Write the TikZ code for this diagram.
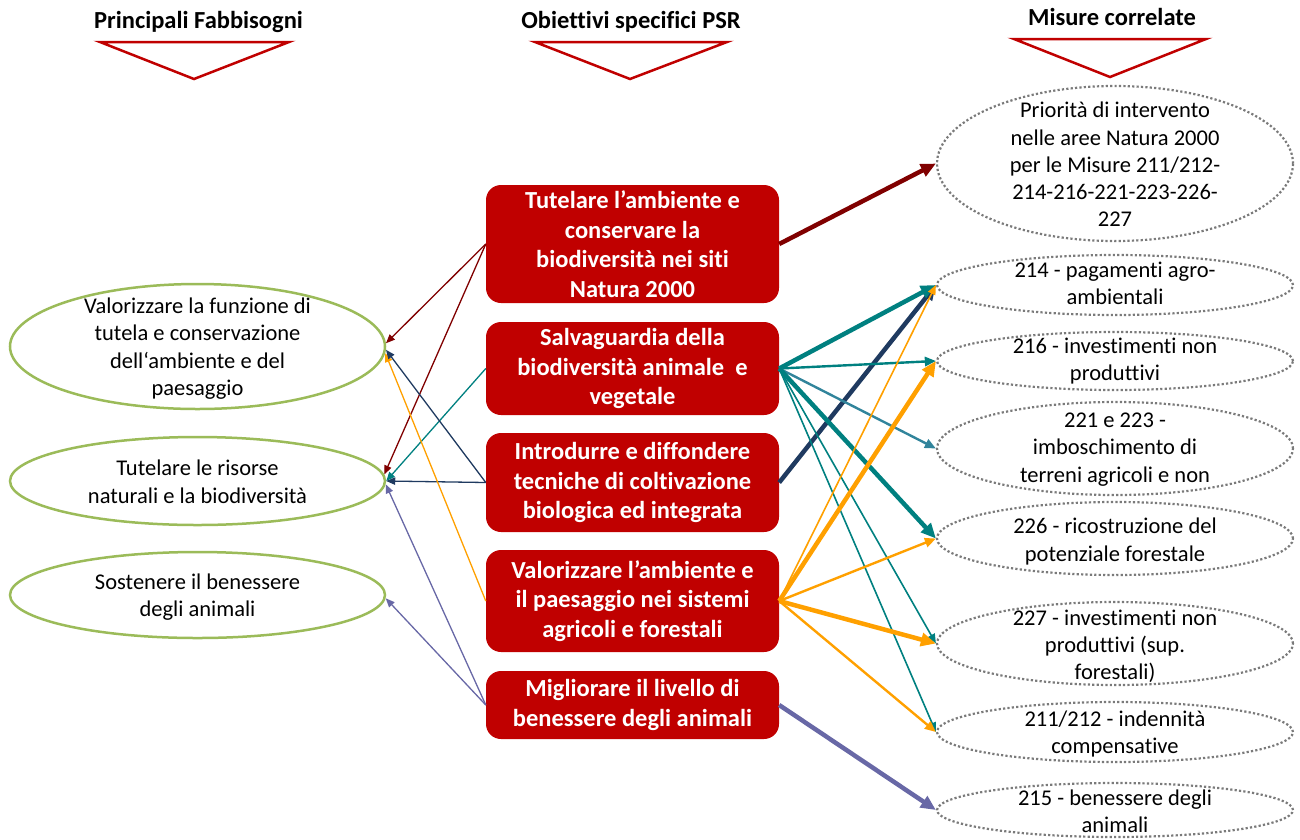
\documentclass[tikz,border=0pt]{standalone}
\usepackage{fontspec}
\setmainfont{Carlito}[RawFeature={-liga;-clig;-rlig;-ccmp;-calt}]
\usetikzlibrary{arrows.meta,shapes.geometric}

\definecolor{boxred}{HTML}{C00000}
\definecolor{cRed}{HTML}{800000}
\definecolor{cTeal}{HTML}{008080}
\definecolor{cSteel}{HTML}{31849B}
\definecolor{cNavy}{HTML}{1F3A60}
\definecolor{cOrange}{HTML}{FFA000}
\definecolor{cPurple}{HTML}{6868A6}
\definecolor{cGreen}{HTML}{9BBB59}
\definecolor{cDot}{HTML}{7A7A7A}

\begin{document}
\begin{tikzpicture}[x=1pt,y=-1pt,
  headtxt/.style={font=\bfseries\fontsize{24.5}{29}\selectfont, inner sep=0pt},
  headtri/.style={draw=boxred, line width=2.5pt},
  need/.style={ellipse, draw=cGreen, line width=2.5pt, minimum width=375pt, inner sep=0pt},
  needtxt/.style={align=center, font=\fontsize{22.5}{27.5}\selectfont, inner sep=0pt},
  measure/.style={ellipse, draw=cDot, line width=2.2pt, dash pattern=on 2.2pt off 2.2pt,
                  minimum width=356pt, inner sep=0pt},
  meastxt/.style={align=center, font=\fontsize{22.5}{27.3}\selectfont, inner sep=0pt},
  goal/.style={rectangle, rounded corners=15pt, fill=boxred, text=white, align=center,
               minimum width=293pt, inner sep=0pt,
               font=\bfseries\fontsize{24.5}{29.5}\selectfont},
  link/.style={-{Triangle[length=6.5pt 1.9, width=5pt 1.8]}, line width=1.3pt},
  thin/.style={link, line width=1.6pt},
  mid/.style={link, line width=2.4pt},
  thick/.style={link, line width=4.5pt}
]
\useasboundingbox (0,0) rectangle (1300,839);

% column headings with their red arrows
\node[headtxt, anchor=base] (h1) at (198.5,28) {Principali Fabbisogni};
\node[headtxt, anchor=base] (h2) at (631,28) {Obiettivi specifici PSR};
\node[headtxt, anchor=base] (h3) at (1112,25) {Misure correlate};
\draw[headtri] (100,42) -- (289,42) -- (194,79) -- cycle;
\draw[headtri] (535,42) -- (727,42) -- (630,79) -- cycle;
\draw[headtri] (1014,39) -- (1206,39) -- (1110,77) -- cycle;

% needs (left column)
\node[need, minimum height=125pt] (n1) at (197.5,346.5) {};
\node[need, minimum height=88pt] (n2) at (197.5,481) {};
\node[need, minimum height=86pt] (n3) at (197.5,595) {};
\node[needtxt] (tn1) at ([yshift=-2pt]n1.center) {Valorizzare la funzione di\\tutela e conservazione\\dell‘ambiente e del\\paesaggio};
\node[needtxt] (tn2) at ([yshift=-1pt]n2.center) {Tutelare le risorse\\naturali e la biodiversità};
\node[needtxt] (tn3) at ([yshift=-2pt]n3.center) {Sostenere il benessere\\degli animali};

% objectives (middle column)
\node[goal, minimum height=118pt] (g1) at (632.5,244) {Tutelare l’ambiente e\\conservare la\\biodiversità nei siti\\Natura 2000};
\node[goal, minimum height=93pt] (g2) at (632.5,368.5) {Salvaguardia della\\biodiversità animale\ \ e\\vegetale};
\node[goal, minimum height=99pt] (g3) at (632.5,482.5) {Introdurre e diffondere\\tecniche di coltivazione\\biologica ed integrata};
\node[goal, minimum height=102pt] (g4) at (632.5,601) {Valorizzare l’ambiente e\\il paesaggio nei sistemi\\agricoli e forestali};
\node[goal, minimum height=68pt] (g5) at (632.5,705) {Migliorare il livello di\\benessere degli animali};

% measures (right column)
\node[measure, minimum height=155pt] (mP) at (1115,163.5) {};
\node[measure, minimum height=60pt] (m214) at (1115,285) {};
\node[measure, minimum height=58pt] (m216) at (1115,361) {};
\node[measure, minimum height=93pt] (m221) at (1115,448.5) {};
\node[measure, minimum height=73pt] (m226) at (1115,538.5) {};
\node[measure, minimum height=83pt] (m227) at (1115,643.5) {};
\node[measure, minimum height=60pt] (m211) at (1115,732) {};
\node[measure, minimum height=54pt] (m215) at (1115,810) {};
\node[meastxt] (tP) at ([yshift=-1pt]mP.center) {Priorità di intervento\\nelle aree Natura 2000\\per le Misure 211/212-\\214-216-221-223-226-\\227};
\node[meastxt] (t214) at ([yshift=2pt]m214.center) {214 - pagamenti agro-\\ambientali};
\node[meastxt] (t216) at (m216.center) {216 - investimenti non\\produttivi};
\node[meastxt] (t221) at ([yshift=-1pt]m221.center) {221 e 223 -\\imboschimento di\\terreni agricoli e non};
\node[meastxt] (t226) at ([yshift=-3pt]m226.center) {226 - ricostruzione del\\potenziale forestale};
\node[meastxt] (t227) at ([yshift=-3pt]m227.center) {227 - investimenti non\\produttivi (sup.\\forestali)};
\node[meastxt] (t211) at ([yshift=-2pt]m211.center) {211/212 - indennità\\compensative};
\node[meastxt] (t215) at ([yshift=-1pt]m215.center) {215 - benessere degli\\animali};

% objectives -> needs
\draw[link, cRed] (g1.west) -- (n1.1.1);
\draw[link, cRed] (g1.west) -- (n2.2.8);
\draw[link, cTeal] (g2.west) -- (n2.0.6);
\draw[link, cNavy] (g3.west) -- (n2.-0.6);
\draw[link, cPurple] (g5.west) -- (n2.-1.9);
\draw[link, cPurple] (g5.west) -- (n3.-1);
\draw[link, cOrange] (g4.west) -- (n1.-2.6);
\draw[link, cNavy] (g3.west) -- (n1.-1.1);

% objectives -> measures
\draw[thick, cRed] (g1.east) -- (mP.west);
\draw[thick, cNavy] (g3.east) -- (m214.west);
\draw[thick, cTeal] (g2.east) -- (m214.west);
\draw[mid, cTeal] (g2.east) -- (m216.west);
\draw[mid, cSteel] (g2.east) -- (m221.west);
\draw[thick, cTeal] (g2.east) -- (m226.west);
\draw[thin, cTeal] (g2.east) -- (m227.west);
\draw[thin, cTeal] (g2.east) -- (m211.west);
\draw[thin, cOrange] (g4.east) -- (m214.west);
\draw[thick, cOrange] (g4.east) -- (m216.west);
\draw[mid, cOrange] (g4.east) -- (m226.west);
\draw[thick, cOrange] (g4.east) -- (m227.west);
\draw[mid, cOrange] (g4.east) -- (m211.west);
\draw[thick, cPurple] (g5.east) -- (m215.west);
\end{tikzpicture}
\end{document}
